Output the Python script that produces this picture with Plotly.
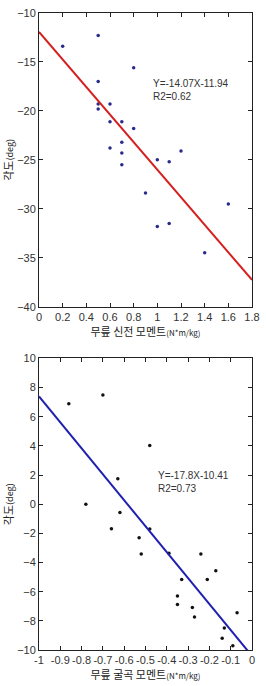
import plotly.graph_objects as go
from plotly.subplots import make_subplots

# Top chart: knee extension moment vs angle
ext_x = [0.2, 0.5, 0.5, 0.5, 0.5, 0.6, 0.6, 0.6, 0.7, 0.7, 0.7, 0.7, 0.8, 0.8,
         1.0, 1.1, 1.2, 0.9, 1.0, 1.1, 1.4, 1.6]
ext_y = [-13.4, -12.3, -17.0, -19.3, -19.8, -19.3, -21.1, -23.8, -21.1, -23.2, -24.3, -25.5,
         -15.6, -21.8, -25.0, -25.2, -24.1, -28.4, -31.8, -31.5, -34.5, -29.5]
ext_fit_x = [0.0, 1.8]
ext_slope, ext_icpt = -14.07, -11.94

# Bottom chart: knee flexion moment vs angle
flx_x = [-0.86, -0.70, -0.48, -0.63, -0.78, -0.62, -0.66, -0.48, -0.53, -0.52, -0.39, -0.24,
         -0.17, -0.21, -0.33, -0.35, -0.35, -0.28, -0.27, -0.07, -0.13, -0.14, -0.09]
flx_y = [6.9, 7.49, 4.02, 1.75, 0.0, -0.56, -1.69, -1.7, -2.3, -3.41, -3.37, -3.41,
         -4.57, -5.16, -5.16, -6.29, -6.88, -7.08, -7.74, -7.44, -8.49, -9.19, -9.71]
flx_fit_x = [-1.0, 0.0]
flx_slope, flx_icpt = -17.8, -10.41

top_xticks = [0, 0.2, 0.4, 0.6, 0.8, 1, 1.2, 1.4, 1.6, 1.8]
top_yticks = [-10, -15, -20, -25, -30, -35, -40]
bot_xticks = [-1, -0.9, -0.8, -0.7, -0.6, -0.5, -0.4, -0.3, -0.2, -0.1, 0]
bot_yticks = [10, 8, 6, 4, 2, 0, -2, -4, -6, -8, -10]

fig = make_subplots(rows=2, cols=1)

fig.add_trace(go.Scatter(x=ext_x, y=ext_y, mode="markers",
                         marker=dict(symbol="circle", size=3.5, color="#2a2a8c"),
                         showlegend=False), row=1, col=1)
fig.add_trace(go.Scatter(x=ext_fit_x, y=[ext_slope * v + ext_icpt for v in ext_fit_x], mode="lines",
                         line=dict(color="#d42020", width=2), showlegend=False), row=1, col=1)
fig.add_trace(go.Scatter(x=flx_x, y=flx_y, mode="markers",
                         marker=dict(symbol="circle", size=3.5, color="#111111"),
                         showlegend=False), row=2, col=1)
fig.add_trace(go.Scatter(x=flx_fit_x, y=[flx_slope * v + flx_icpt for v in flx_fit_x], mode="lines",
                         line=dict(color="#2020b0", width=2), showlegend=False), row=2, col=1)

tickfont = dict(family="Liberation Sans Narrow, Arial Narrow, Liberation Sans, sans-serif",
                size=11, color="#333333")
axis_common = dict(showgrid=False, zeroline=False, showline=True, linecolor="#222222",
                   linewidth=1, mirror="ticks", ticks="inside", ticklen=4, tickcolor="#222222",
                   tickfont=tickfont)
kfont = dict(family="Noto Sans CJK KR, sans-serif", size=11, color="#222222")

fig.update_xaxes(range=[0, 1.8], tickvals=top_xticks, ticktext=[f"{v:g}" for v in top_xticks],
                 domain=[0, 1], title=dict(text="무릎 신전 모멘트<span style='font-size:8px'>(N*m/kg)</span>",
                                           font=kfont, standoff=4), **axis_common, row=1, col=1)
fig.update_yaxes(range=[-40, -10], tickvals=top_yticks, domain=[0.539, 1],
                 title=dict(text="각도<span style='font-size:9px'>(deg)</span>", font=kfont, standoff=2),
                 **axis_common, row=1, col=1)
fig.update_xaxes(range=[-1, 0], tickvals=bot_xticks, ticktext=[f"{v:g}" for v in bot_xticks],
                 domain=[0, 1], title=dict(text="무릎 굴곡 모멘트<span style='font-size:8px'>(N*m/kg)</span>",
                                           font=kfont, standoff=4), **axis_common, row=2, col=1)
fig.update_yaxes(range=[-10, 10], tickvals=bot_yticks, domain=[0, 0.4577],
                 title=dict(text="각도<span style='font-size:9px'>(deg)</span>", font=kfont, standoff=2),
                 **axis_common, row=2, col=1)

annfont = dict(family="Liberation Sans Narrow, Arial Narrow, Liberation Sans, sans-serif",
               size=10, color="#333333")
fig.add_annotation(x=0.95, y=-17.9, xref="x", yref="y", text="Y=-14.07X-11.94<br>R2=0.62",
                   showarrow=False, xanchor="left", yanchor="middle", align="left", font=annfont)
fig.add_annotation(x=-0.45, y=2.46, xref="x2", yref="y2", text="Y=-17.8X-10.41<br>R2=0.73",
                   showarrow=False, xanchor="left", yanchor="top", align="left", font=annfont)

fig.update_layout(width=267, height=686, margin=dict(l=30, r=7, t=7, b=36),
                  paper_bgcolor="white", plot_bgcolor="white")

fig.write_html("out.html")
